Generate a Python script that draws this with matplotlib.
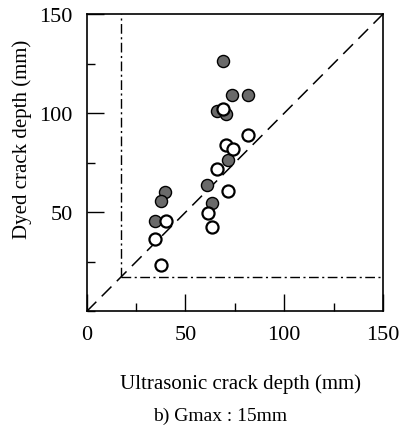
import numpy as np
import matplotlib.pyplot as plt
from matplotlib.ticker import MultipleLocator

# ======================================================================
# Data
# ======================================================================
# Filled markers
filled_x = [69.1, 73.7, 81.5, 65.8, 70.8, 71.7, 61.0, 63.6, 39.8, 37.6, 34.4]
filled_y = [126.2, 109.3, 109.0, 101.1, 99.7, 76.2, 63.9, 54.6, 60.2, 55.6, 45.4]
# Open markers
open_x = [69.1, 81.5, 70.5, 74.2, 66.1, 71.7, 61.2, 63.4, 40.0, 34.4, 37.8]
open_y = [101.9, 89.1, 83.9, 81.7, 72.0, 61.0, 49.7, 42.8, 45.4, 36.6, 23.5]
limit = 17.5  # dash-dot detection limit lines
xticks = [0, 50, 100, 150]
yticks = [50, 100, 150]

plt.rcParams['font.family'] = ['Liberation Serif', 'DejaVu Serif']

fig = plt.figure(figsize=(4.01, 4.31), dpi=100)
ax = fig.add_axes([0.216, 0.275, 0.739, 0.690])

# 1:1 line
ax.plot([0, 150], [0, 150], 'k--', lw=1.1, dashes=(9, 5))
# Limit lines
ax.plot([limit, limit], [limit, 150], 'k', lw=1.0, dashes=(7, 2.5, 1.5, 2.5))
ax.plot([limit, 150], [limit, limit], 'k', lw=1.0, dashes=(7, 2.5, 1.5, 2.5))

ax.plot(filled_x, filled_y, 'o', ms=8.7, mfc='#6a6a6a', mec='black', mew=1.0)
ax.plot(open_x, open_y, 'o', ms=8.7, mfc='white', mec='black', mew=1.6)

ax.set_xlim(0, 150)
ax.set_ylim(0, 150)
ax.set_xticks(xticks)
ax.set_yticks(yticks)
ax.xaxis.set_minor_locator(MultipleLocator(25))
ax.yaxis.set_minor_locator(MultipleLocator(25))
ax.tick_params(which='major', direction='in', length=12, width=1.0, labelsize=16, pad=10)
ax.tick_params(which='minor', direction='in', length=6, width=1.0)
ax.tick_params(top=False, right=False, which='both')
for s in ax.spines.values():
    s.set_linewidth(1.2)

ax.set_xlabel('Ultrasonic crack depth (mm)', fontsize=15)
ax.set_ylabel('Dyed crack depth (mm)', fontsize=15)
ax.xaxis.set_label_coords(0.52, -0.207)
ax.yaxis.set_label_coords(-0.185, 0.583)
fig.text(0.55, 0.033, 'b) Gmax : 15mm', fontsize=14, ha='center', va='center')

plt.savefig('out.png', dpi=100)
